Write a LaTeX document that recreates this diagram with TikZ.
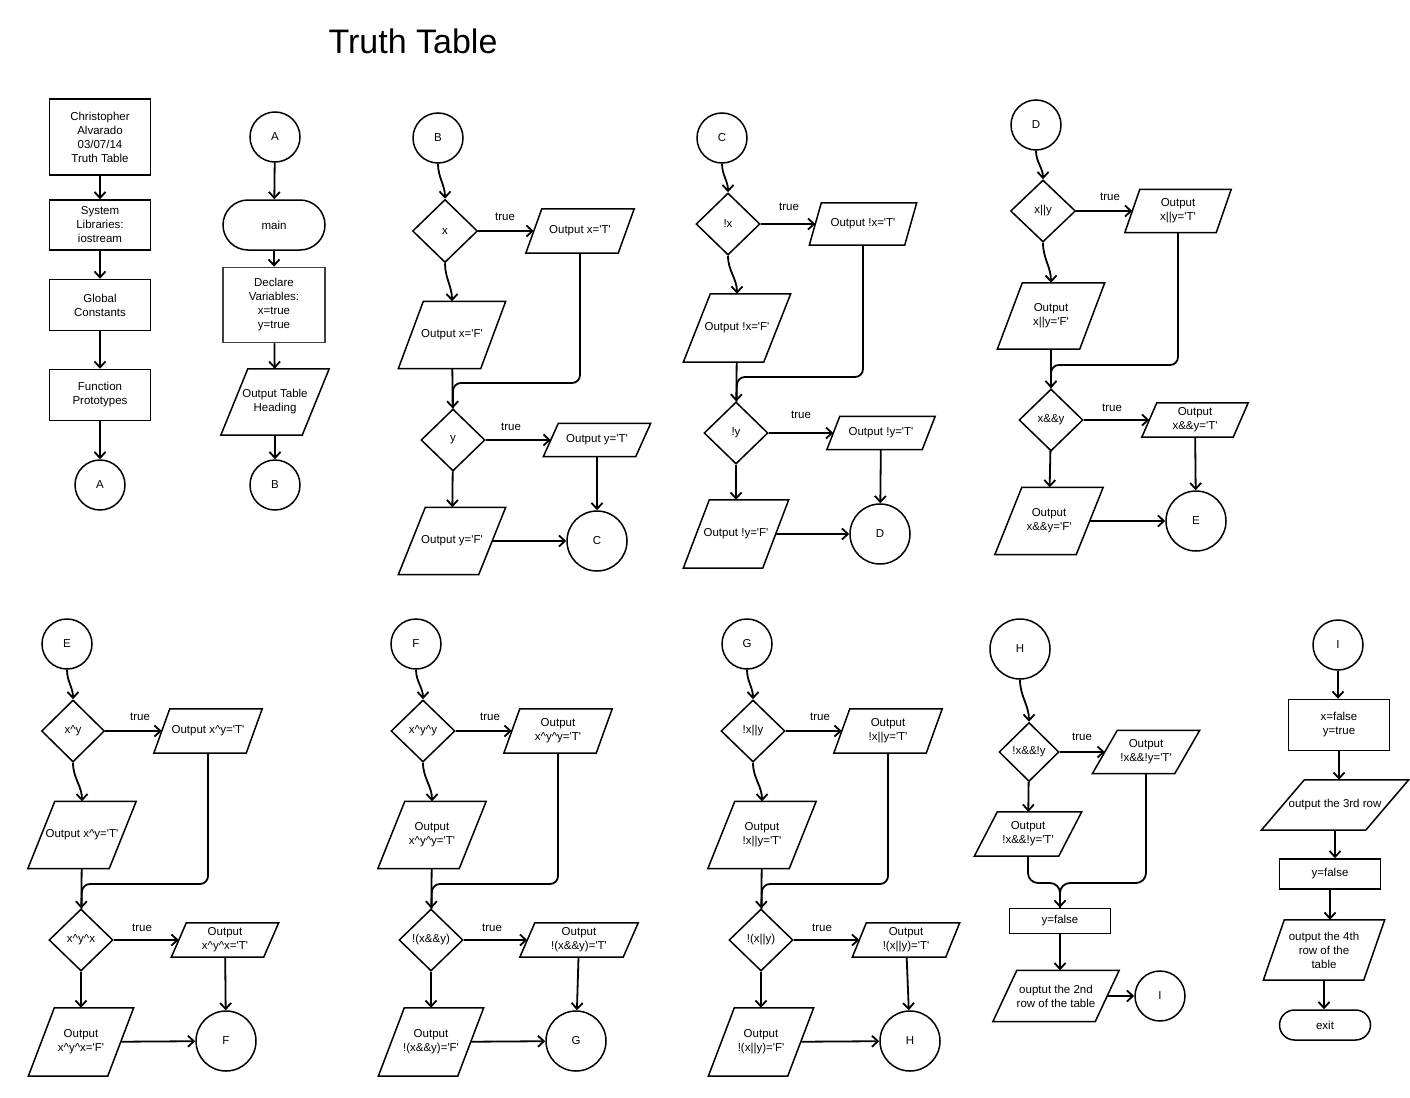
\documentclass[tikz,border=0pt]{standalone}
\usepackage{fontspec}
\newfontfamily\chartfont{Liberation Sans}
\usetikzlibrary{shapes.geometric,arrows.meta}

\newcommand{\crt}{\textasciicircum}
% name, centre, width at mid height, height, slant, text
\newcommand{\iobox}[6]{%
  \node[io,minimum width=#3,minimum height=#4] (#1) at (#2) {#6};
  \draw[figline] ([xshift=#5/2]#1.north west) -- ([xshift=#5/2]#1.north east)
    -- ([xshift=-#5/2]#1.south east) -- ([xshift=-#5/2]#1.south west) -- cycle;}

\tikzset{
  figline/.style={line width=1.5pt},
  proc/.style={rectangle,draw,figline,align=center,inner sep=0pt,minimum width=101,minimum height=51},
  term/.style={rectangle,draw,figline,rounded corners=25,minimum width=102,minimum height=50},
  io/.style={rectangle,align=center,inner sep=0pt},
  conn/.style={circle,draw,figline,minimum size=50,inner sep=0pt},
  dec/.style={diamond,draw,figline,minimum width=64,minimum height=62,inner sep=0pt},
  lbl/.style={inner sep=0pt},
  link/.style={line width=1.8pt},
  arr/.style={link,-{Straight Barb[length=6pt,width=11pt]}},
}

\begin{document}
\begin{tikzpicture}[x=1pt,y=-1pt,font=\chartfont\fontsize{11.5}{14}\selectfont]
\useasboundingbox (0,0) rectangle (1410,1097);

\node[lbl,font=\chartfont\fontsize{34}{40}\selectfont] (title) at (413,41) {Truth Table};

% header column
\node[proc,minimum height=76] (hdr) at (100,137) {Christopher\\Alvarado\\03/07/14\\Truth Table};
\node[proc,minimum height=50] (lib) at (100,225) {System\\Libraries:\\iostream};
\node[proc] (glob) at (100,305) {Global\\Constants};
\node[proc] (proto) at (100,395) {Function\\Prototypes};
\node[conn] (a1) at (100,485) {A};
\draw[arr] (hdr) -- (lib);
\draw[arr] (lib) -- (glob);
\draw[arr] (glob) -- (proto);
\draw[arr] (proto) -- (a1);

% main
\node[conn] (a2) at (275,137) {A};
\node[term] (main) at (274,225) {main};
\node[proc,minimum width=102,minimum height=75,draw=black!75] (decl) at (274,305) {Declare\\Variables:\\x=true\\y=true};
\iobox{head}{275,402}{81}{66}{27}{Output Table\\Heading}
\node[conn] (b1) at (275,485) {B};
\draw[arr] (a2) -- (main);
\draw[arr] (main) -- (decl);
\draw[arr] (decl) -- (head);
\draw[arr] (head) -- (b1);

% B: x, y
\node[conn] (b2) at (438,138) {B};
\node[dec,minimum width=65,minimum height=63] (dx) at (445,231) {x};
\node[lbl] (t1) at (505,217) {true};
\iobox{oxt}{580,231}{92}{44}{16}{Output x='T'}
\iobox{oxf}{452,335}{82}{67}{25}{Output x='F'}
\coordinate (m1) at (453,383);
\node[dec] (dy) at (453,440) {y};
\node[lbl] (t2) at (511,427) {true};
\iobox{oyt}{597,440}{92}{33}{15}{Output y='T'}
\iobox{oyf}{452,541}{80}{67}{27}{Output y='F'}
\node[conn,minimum size=60] (c1) at (597,541) {C};
\draw[arr] (b2) to[out=-90,in=90] (dx);
\draw[arr] (dx) -- (oxt);
\draw[arr] (dx) to[out=-90,in=90] (oxf);
\draw[arr] (oxf) -- (dy);
\draw[link,rounded corners=8] (oxt) |- (m1) -- (dy);
\draw[arr] (dy) -- (oyt);
\draw[arr] (dy) -- (oyf);
\draw[arr] (oyt) -- (c1);
\draw[arr] (oyf) -- (c1);

% C: !x, !y
\node[conn] (c2) at (722,138) {C};
\node[dec] (dnx) at (728,224) {!x};
\node[lbl] (t3) at (789,207) {true};
\iobox{onxt}{863,224}{95}{42}{12}{Output !x='T'}
\iobox{onxf}{737,328}{80}{68}{27}{Output !x='F'}
\coordinate (m2) at (737,377);
\node[dec] (dny) at (736,433) {!y};
\node[lbl] (t4) at (801,415) {true};
\iobox{onyt}{881,433}{95}{33}{13}{Output !y='T'}
\iobox{onyf}{736,534}{79}{68}{26}{Output !y='F'}
\node[conn,minimum size=60] (d1) at (880,534) {D};
\draw[arr] (c2) to[out=-90,in=90] (dnx);
\draw[arr] (dnx) -- (onxt);
\draw[arr] (dnx) to[out=-90,in=90] (onxf);
\draw[arr] (onxf) -- (dny);
\draw[link,rounded corners=8] (onxt) |- (m2) -- (dny);
\draw[arr] (dny) -- (onyt);
\draw[arr] (dny) -- (onyf);
\draw[arr] (onyt) -- (d1);
\draw[arr] (onyf) -- (d1);

% D: x||y, x&&y
\node[conn] (d2) at (1036,125) {D};
\node[dec,minimum width=65] (dor) at (1043,211) {x||y};
\node[lbl] (t5) at (1110,197) {true};
\iobox{oort}{1178,211}{91}{43}{15}{Output\\x||y='T'}
\iobox{oorf}{1051,316}{82}{66}{25}{Output\\x||y='F'}
\coordinate (m3) at (1051,365);
\node[dec] (dand) at (1051,420) {x\&\&y};
\node[lbl] (t6) at (1112,408) {true};
\iobox{oandt}{1195,420}{91}{34}{15}{Output\\x\&\&y='T'}
\iobox{oandf}{1049,521}{81}{67}{27}{Output\\x\&\&y='F'}
\node[conn,minimum size=60] (e1) at (1196,521) {E};
\draw[arr] (d2) to[out=-90,in=90] (dor);
\draw[arr] (dor) -- (oort);
\draw[arr] (dor) to[out=-90,in=90] (oorf);
\draw[arr] (oorf) -- (dand);
\draw[link,rounded corners=8] (oort) |- (m3) -- (dand);
\draw[arr] (dand) -- (oandt);
\draw[arr] (dand) -- (oandf);
\draw[arr] (oandt) -- (e1);
\draw[arr] (oandf) -- (e1);

% E: x^y, x^y^x
\node[conn] (e2) at (67,644) {E};
\node[dec,minimum width=63] (dxy) at (73,731) {x\crt y};
\node[lbl] (t7) at (140,717) {true};
\iobox{oxyt}{208,731}{92}{44}{16}{Output x\crt y='T'}
\iobox{oxyf}{82,835}{81}{67}{27}{Output x\crt y='T'}
\coordinate (m4) at (82,884);
\node[dec] (dxyx) at (81,940) {x\crt y\crt x};
\node[lbl] (t8) at (142,928) {true};
\iobox{oxyxt}{225,940}{92}{34}{15}{Output\\x\crt y\crt x='T'}
\iobox{oxyxf}{81,1042}{79}{68}{26}{Output\\x\crt y\crt x='F'}
\node[conn,minimum size=60] (f1) at (226,1041) {F};
\draw[arr] (e2) to[out=-90,in=90] (dxy);
\draw[arr] (dxy) -- (oxyt);
\draw[arr] (dxy) to[out=-90,in=90] (oxyf);
\draw[arr] (oxyf) -- (dxyx);
\draw[link,rounded corners=8] (oxyt) |- (m4) -- (dxyx);
\draw[arr] (dxyx) -- (oxyxt);
\draw[arr] (dxyx) -- (oxyxf);
\draw[arr] (oxyxt) -- (f1);
\draw[arr] (oxyxf) -- (f1);

% F: x^y^y, !(x&&y)
\node[conn] (f2) at (416,644) {F};
\node[dec] (dxyy) at (423,731) {x\crt y\crt y};
\node[lbl] (t9) at (490,717) {true};
\iobox{oxyyt}{558,731}{92}{44}{16}{Output\\x\crt y\crt y='T'}
\iobox{oxyyf}{432,835}{81}{67}{27}{Output\\x\crt y\crt y='T'}
\coordinate (m5) at (432,884);
\node[dec] (dnand) at (431,940) {!(x\&\&y)};
\node[lbl] (t10) at (492,928) {true};
\iobox{onandt}{579,940}{103}{34}{15}{Output\\!(x\&\&y)='T'}
\iobox{onandf}{431,1042}{79}{68}{26}{Output\\!(x\&\&y)='F'}
\node[conn,minimum size=60] (g1) at (576,1041) {G};
\draw[arr] (f2) to[out=-90,in=90] (dxyy);
\draw[arr] (dxyy) -- (oxyyt);
\draw[arr] (dxyy) to[out=-90,in=90] (oxyyf);
\draw[arr] (oxyyf) -- (dnand);
\draw[link,rounded corners=8] (oxyyt) |- (m5) -- (dnand);
\draw[arr] (dnand) -- (onandt);
\draw[arr] (dnand) -- (onandf);
\draw[arr] (onandt) -- (g1);
\draw[arr] (onandf) -- (g1);

% G: !x||y, !(x||y)
\node[conn] (g2) at (747,644) {G};
\node[dec] (dnor) at (753,731) {!x||y};
\node[lbl] (t11) at (820,717) {true};
\iobox{onort}{888,731}{92}{44}{16}{Output\\!x||y='T'}
\iobox{onorf}{762,835}{81}{67}{27}{Output\\!x||y='T'}
\coordinate (m6) at (762,884);
\node[dec] (dnor2) at (761,940) {!(x||y)};
\node[lbl] (t12) at (822,928) {true};
\iobox{onor2t}{906,940}{93}{34}{14}{Output\\!(x||y)='T'}
\iobox{onor2f}{761,1042}{79}{68}{26}{Output\\!(x||y)='F'}
\node[conn,minimum size=60] (h1) at (910,1041) {H};
\draw[arr] (g2) to[out=-90,in=90] (dnor);
\draw[arr] (dnor) -- (onort);
\draw[arr] (dnor) to[out=-90,in=90] (onorf);
\draw[arr] (onorf) -- (dnor2);
\draw[link,rounded corners=8] (onort) |- (m6) -- (dnor2);
\draw[arr] (dnor2) -- (onor2t);
\draw[arr] (dnor2) -- (onor2f);
\draw[arr] (onor2t) -- (h1);
\draw[arr] (onor2f) -- (h1);

% H: !x&&!y
\node[conn,minimum size=60] (h2) at (1020,649) {H};
\node[dec,minimum width=60,minimum height=59] (dnn) at (1029,752) {!x\&\&!y};
\node[lbl] (t13) at (1082,737) {true};
\iobox{onnt}{1146,752}{82}{43}{25}{Output\\!x\&\&!y='T'}
\iobox{onnf}{1028,834}{84}{44}{23}{Output\\!x\&\&!y='T'}
\coordinate (m7) at (1060,883);
\node[proc,minimum height=25] (yf1) at (1060,921) {y=false};
\iobox{row2}{1056,996}{102}{51}{24}{ouptut the 2nd\\row of the table}
\node[conn] (i1) at (1160,996) {I};
\draw[arr] (h2) to[out=-90,in=90] (dnn);
\draw[arr] (dnn) -- (onnt);
\draw[arr] (dnn) -- (onnf);
\draw[link,rounded corners=10] (onnf) |- (m7) -- (yf1);
\draw[arr,rounded corners=10] (onnt) |- (m7) -- (yf1);
\draw[arr] (yf1) -- (yf1 |- row2.north);
\draw[arr] (row2) -- (i1);

% I
\node[conn] (i2) at (1338,645) {I};
\node[proc] (xfyt) at (1339,725) {x=false\\y=true};
\iobox{row3}{1335,805}{104}{50}{43}{output the 3rd row}
\node[proc,minimum height=30] (yf2) at (1330,874) {y=false};
\iobox{row4}{1324,950}{100}{60}{21}{output the 4th\\row of the\\table}
\node[term,minimum width=91,minimum height=30,rounded corners=15] (exit) at (1325,1025) {exit};
\draw[arr] (i2) -- (i2 |- xfyt.north);
\draw[arr] (xfyt) -- (xfyt |- row3.north);
\draw[arr] (row3) -- (row3 |- yf2.north);
\draw[arr] (yf2) -- (yf2 |- row4.north);
\draw[arr] (row4) -- (row4 |- exit.north);
\end{tikzpicture}
\end{document}
